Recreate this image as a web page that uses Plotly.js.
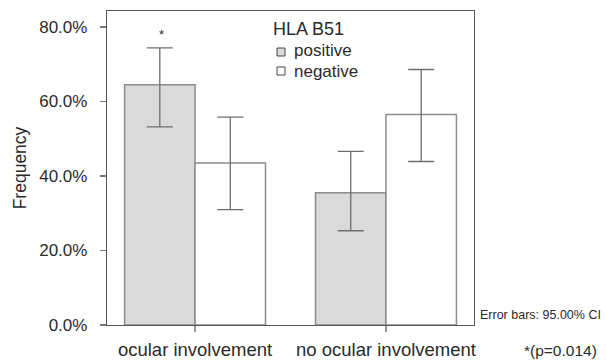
<!DOCTYPE html>
<html>
<head>
<meta charset="utf-8">
<script src="https://cdn.plot.ly/plotly-3.0.1.min.js"></script>
<style>html,body{margin:0;padding:0;background:#fff;}#chart{width:607px;height:361px;}</style>
</head>
<body>
<div id="chart"></div>
<script>
const categories = ["ocular involvement", "no ocular involvement"];
const seriesNames = ["positive", "negative"];
const positiveValues = [64.5, 35.5];
const negativeValues = [43.5, 56.5];
const positiveUpper = [74.4, 46.6];
const positiveLower = [53.2, 25.3];
const negativeUpper = [55.8, 68.6];
const negativeLower = [31.0, 43.9];
const yTicks = [0, 20, 40, 60, 80];
const yTickLabels = yTicks.map(v => v.toFixed(1) + "%");

const font = "Liberation Sans, Arial, Helvetica, sans-serif";
const txt = "#2a2a2a";
const fills = ["#dadada", "#ffffff"];

// plot area in pixels
const L = 107, R = 474, T = 11, B = 325;
const px = x => (x - L) / (R - L);
const py = y => (B - y) / (B - T);

function errs(vals, up, lo) {
  return {
    type: "data", symmetric: false,
    array: up.map((u, i) => u - vals[i]),
    arrayminus: lo.map((l, i) => vals[i] - l),
    color: "#6e6e6e", thickness: 1.3, width: 13
  };
}

const traces = [
  {
    type: "bar", name: seriesNames[0], x: categories, y: positiveValues,
    marker: {color: fills[0], line: {color: "#8c8c8c", width: 1.5}},
    error_y: errs(positiveValues, positiveUpper, positiveLower),
    hoverinfo: "skip"
  },
  {
    type: "bar", name: seriesNames[1], x: categories, y: negativeValues,
    marker: {color: fills[1], line: {color: "#8c8c8c", width: 1.5}},
    error_y: errs(negativeValues, negativeUpper, negativeLower),
    hoverinfo: "skip"
  }
];

const legendRows = [52, 71];
const shapes = seriesNames.map((n, i) => ({
  type: "rect", xref: "paper", yref: "paper",
  x0: px(277), x1: px(285), y0: py(legendRows[i] + 4), y1: py(legendRows[i] - 4),
  fillcolor: fills[i], line: {color: "#444", width: 1}
}));

const annotations = [
  {x: px(271), y: py(29), text: "HLA B51", font: {family: font, size: 18, color: txt}, xanchor: "left"},
  {x: px(292), y: py(legendRows[0] - 1.5), text: seriesNames[0], font: {family: font, size: 17, color: txt}, xanchor: "left"},
  {x: px(292), y: py(legendRows[1] + 0.5), text: seriesNames[1], font: {family: font, size: 17, color: txt}, xanchor: "left"},
  {x: px(161), y: py(35), text: "*", font: {family: font, size: 13, color: txt}, xanchor: "center"},
  {x: px(478), y: py(315), text: "Error bars: 95.00% CI", font: {family: font, size: 12.5, color: txt}, xanchor: "left"},
  {x: px(560), y: py(350), text: "*(p=0.014)", font: {family: font, size: 15.5, color: txt}, xanchor: "center"}
].map(a => Object.assign({xref: "paper", yref: "paper", showarrow: false, yanchor: "middle"}, a));

const layout = {
  width: 607, height: 361,
  margin: {l: L, r: 607 - R, t: T, b: 361 - B, pad: 0},
  paper_bgcolor: "#fff", plot_bgcolor: "#fff",
  barmode: "group", bargap: 0.262, bargroupgap: 0,
  font: {family: font, size: 17, color: txt},
  showlegend: false,
  xaxis: {
    type: "category", range: [-0.461, 1.461],
    showline: true, linecolor: "#555", linewidth: 1.2, mirror: true,
    ticks: "outside", ticklen: 6, tickcolor: "#999", tickwidth: 1.2,
    ticklabelstandoff: 2,
    tickfont: {family: font, size: 18.5, color: txt},
    showgrid: false, zeroline: false, fixedrange: true
  },
  yaxis: {
    range: [0, 84.3],
    tickvals: yTicks, ticktext: yTickLabels,
    showline: true, linecolor: "#555", linewidth: 1.2, mirror: true,
    ticks: "outside", ticklen: 6, tickcolor: "#777", tickwidth: 1.2,
    ticklabelstandoff: 9,
    tickfont: {family: font, size: 17, color: txt},
    showgrid: false, zeroline: false, fixedrange: true,
    title: {text: "Frequency", standoff: 8, font: {family: font, size: 17.5, color: txt}}
  },
  shapes: shapes,
  annotations: annotations
};

Plotly.newPlot("chart", traces, layout, {staticPlot: true, displayModeBar: false});
</script>
</body>
</html>
